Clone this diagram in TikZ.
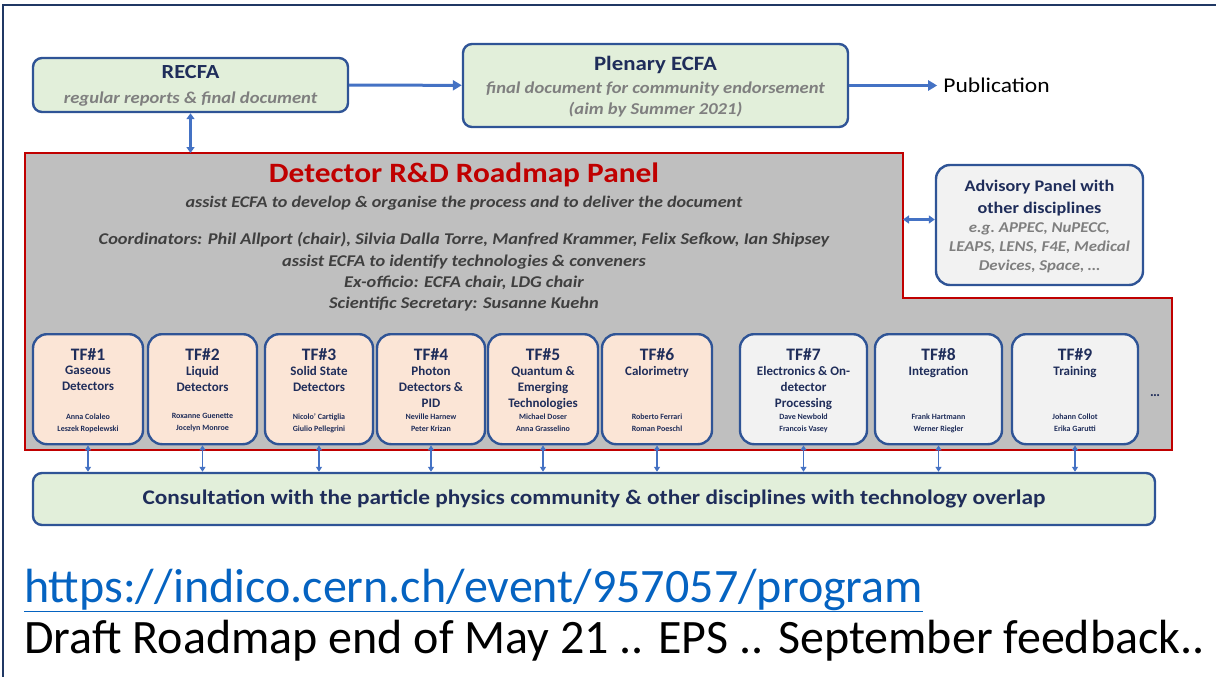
\documentclass[tikz,border=0pt]{standalone}
\usepackage{graphicx}
\usepackage{fontspec}
\setmainfont{Carlito}
\usetikzlibrary{arrows.meta,positioning}

\definecolor{framenavy}{HTML}{203864}
\definecolor{textnavy}{HTML}{1F2D5A}
\definecolor{boxblue}{HTML}{2F5496}
\definecolor{arrowblue}{HTML}{4472C4}
\definecolor{greenfill}{HTML}{E2EFDA}
\definecolor{pinkfill}{HTML}{FBE5D6}
\definecolor{palefill}{HTML}{F2F2F2}
\definecolor{panelgray}{HTML}{BFBFBF}
\definecolor{panelred}{HTML}{C00000}
\definecolor{notegray}{HTML}{7F7F7F}
\definecolor{paneltext}{HTML}{3F3F3F}
\definecolor{linkblue}{HTML}{0563C1}

\newcommand{\fsz}[2]{\fontsize{#1}{#2}\selectfont}
\newcommand{\wide}[1]{\scalebox{1.12}[1]{#1}}

\tikzset{
  bluebox/.style={draw=boxblue, line width=2.4pt, rounded corners=9pt, inner sep=0pt},
  tfbox/.style={bluebox, minimum height=110pt, rounded corners=14pt},
  bigarrow/.style={arrowblue, line width=3pt, -{Triangle[length=9pt,width=10pt]}},
  duoarrow/.style={arrowblue, line width=2.2pt, {Triangle[length=6pt,width=8pt]}-{Triangle[length=6pt,width=8pt]}},
  tfarrow/.style={arrowblue, line width=1.4pt, {Triangle[length=5pt,width=6pt]}-{Triangle[length=5pt,width=6pt]}},
  boxtitle/.style={inner sep=0pt, align=center, text=textnavy},
  boxnote/.style={inner sep=0pt, align=center, text=notegray},
}

\begin{document}
\begin{tikzpicture}[x=1pt,y=-1pt]
\useasboundingbox (0,0) rectangle (1216,677);
% slide frame
\draw[framenavy, line width=2.5pt] (3,677) |- (1216,5);

% top row
\node[bluebox, fill=greenfill, minimum width=315pt, minimum height=54pt] (recfa) at (190.5,85) {};
\node[boxtitle, font=\bfseries\fsz{20}{24}] (recfa-title) at (190.5,72) {\wide{RECFA}};
\node[boxnote, font=\bfseries\itshape\fsz{16.6}{20}] (recfa-note) at (190.5,99) {\wide{regular reports \& final document}};

\node[bluebox, fill=greenfill, minimum width=385pt, minimum height=83pt] (plenary) at (655.5,85.5) {};
\node[boxtitle, font=\bfseries\fsz{20.4}{24}] (plenary-title) at (655.5,65) {\wide{Plenary ECFA}};
\node[boxnote, font=\bfseries\itshape\fsz{16.6}{21}] (plenary-note) at (655.5,99.5)
  {\wide{final document for community endorsement}\\ \wide{(aim by Summer 2021)}};

\node[right=88pt of plenary, inner sep=6pt, font=\fsz{21}{24}] (pub) {\wide{Publication}};
\draw[bigarrow] (recfa) -- (plenary);
\draw[bigarrow] (plenary) -- (pub);

% roadmap panel
\coordinate (pnw) at (25,153);
\coordinate (pstep) at (903,298);
\coordinate (pse) at (1172,450);
\draw[panelred, line width=2.5pt, fill=panelgray] (pnw) -| (pstep) -| (pse) -| cycle;
\draw[duoarrow] (recfa.south) -- (recfa.south |- pnw);

\node[inner sep=0pt, text=panelred, font=\bfseries\fsz{28}{30}] (paneltitle) at (464,175)
  {\wide{Detector R\&D Roadmap Panel}};
\node[inner sep=0pt, text=paneltext, font=\bfseries\itshape\fsz{16.2}{20}] (panelaim) at (464,203)
  {\wide{assist ECFA to develop \& organise the process and to deliver the document}};
\node[inner sep=0pt, text=paneltext, align=center, font=\bfseries\itshape\fsz{16.4}{21.3}] (panelpeople) at (464,272)
  {\wide{Coordinators: Phil Allport (chair), Silvia Dalla Torre, Manfred Krammer, Felix Sefkow, Ian Shipsey}\\
   \wide{assist ECFA to identify technologies \& conveners}\\
   \wide{Ex-officio: ECFA chair, LDG chair}\\
   \wide{Scientific Secretary: Susanne Kuehn}};

% advisory panel
\node[bluebox, fill=palefill, minimum width=207pt, minimum height=120pt, rounded corners=14pt] (advisory) at (1039.5,225) {};
\node[boxtitle, font=\bfseries\fsz{16.2}{22}] (advisory-title) at (1039.5,198)
  {\wide{Advisory Panel with}\\ \wide{other disciplines}};
\node[boxnote, font=\bfseries\itshape\fsz{15}{19}] (advisory-note) at (1039.5,248)
  {\wide{e.g.\ APPEC, NuPECC,}\\ \wide{LEAPS, LENS, F4E, Medical}\\ \wide{Devices, Space, \dots}};
\draw[duoarrow] (advisory.177) -- (advisory.177 -| pstep);

% consultation
\node[bluebox, fill=greenfill, minimum width=1122pt, minimum height=52pt] (consult) at (594,499) {};
\node[boxtitle, font=\bfseries\fsz{20.8}{24}] (consult-text) at (594,499)
  {\wide{Consultation with the particle physics community \& other disciplines with technology overlap}};

% task forces
\foreach \k/\cx/\bw/\tint/\topic/\chairs in {
  1/88/110/pinkfill/{Gaseous\\Detectors}/{Anna Colaleo\\Leszek Ropelewski},
  2/202.5/109/pinkfill/{Liquid\\Detectors}/{Roxanne Guenette\\Jocelyn Monroe},
  3/319/108/pinkfill/{Solid State\\Detectors}/{Nicolo' Cartiglia\\Giulio Pellegrini},
  4/431/108/pinkfill/{Photon\\Detectors \&\\PID}/{Neville Harnew\\Peter Krizan},
  5/543/110/pinkfill/{Quantum \&\\Emerging\\Technologies}/{Michael Doser\\Anna Grasselino},
  6/657/110/pinkfill/{Calorimetry}/{Roberto Ferrari\\Roman Poeschl},
  7/803.5/127/palefill/{Electronics \& On-\\detector\\Processing}/{Dave Newbold\\Francois Vasey},
  8/938.5/127/palefill/{Integration}/{Frank Hartmann\\Werner Riegler},
  9/1075/126/palefill/{Training}/{Johann Collot\\Erika Garutti}}{
  \node[tfbox, fill=\tint, minimum width=\bw pt, anchor=north] (tf\k) at (\cx,333) {};
  \node[boxtitle, anchor=base, font=\bfseries\fsz{17.5}{20}] (tf\k-id) at (\cx,360) {TF\#\k};
  \node[boxtitle, anchor=north, font=\bfseries\fsz{13}{16}] (tf\k-topic) at (\cx,366) {\topic};
  \node[boxtitle, font=\bfseries\fsz{8}{12}] (tf\k-chairs) at (\cx,423) {\chairs};
  \draw[tfarrow] (tf\k.south) -- (tf\k.south |- consult.north);
}
\node[inner sep=0pt, text=textnavy, font=\bfseries\fsz{14}{16}] (more) at (1155,396) {\dots};

% footer lines
\node[inner sep=0pt, anchor=base west, text=linkblue, font=\fsz{48}{52}] (url) at (24,602)
  {\underline{https://indico.cern.ch/event/957057/program}};
\node[inner sep=0pt, anchor=base west, font=\fsz{48}{52}] (draft) at (24,653)
  {Draft Roadmap end of May 21 .. EPS .. September feedback..};
\end{tikzpicture}
\end{document}
